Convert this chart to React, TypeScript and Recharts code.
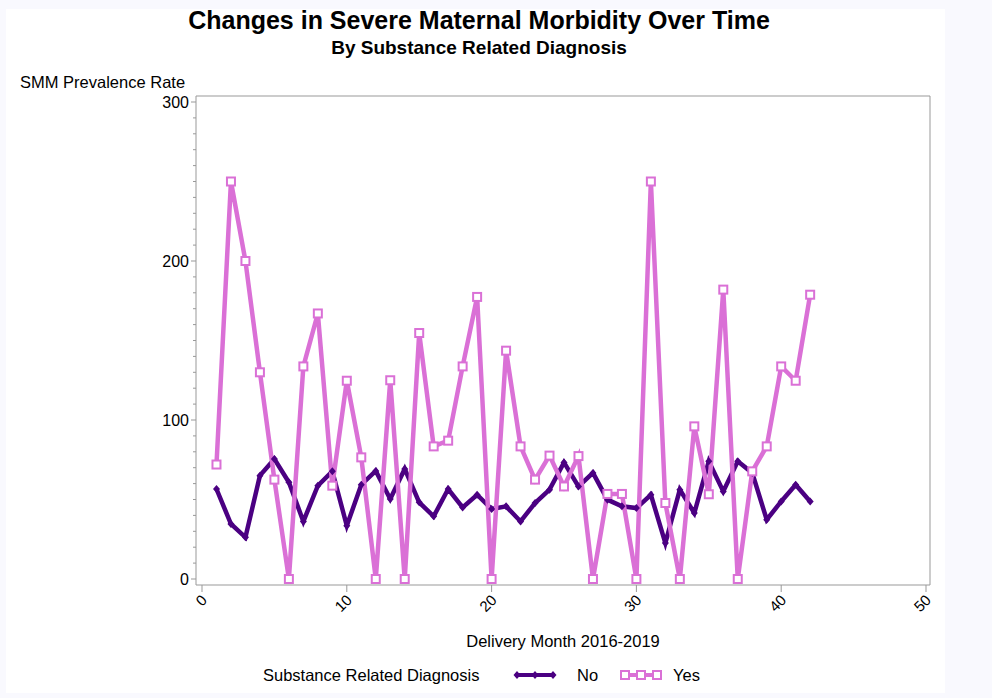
import React from 'react';
import { LineChart, Line, XAxis, YAxis } from 'recharts';

const months = [1, 2, 3, 4, 5, 6, 7, 8, 9, 10, 11, 12, 13, 14, 15, 16, 17, 18, 19, 20, 21, 22, 23, 24, 25, 26, 27, 28, 29, 30, 31, 32, 33, 34, 35, 36, 37, 38, 39, 40, 41, 42];
const noRates = [56.6, 34.6, 26.2, 65, 75.5, 60.8, 36.2, 58.7, 67.7, 33.5, 59.3, 68, 50.3, 69.2, 48.2, 39.4, 56.6, 45, 53, 44, 45.7, 36.2, 47.8, 56.2, 73.3, 58.2, 66.7, 49.9, 45.7, 44.6, 53, 22.6, 56.2, 41.5, 74, 55.1, 74, 66.7, 37.3, 48.8, 59.3, 48.8];
const yesRates = [72, 250, 200, 130, 62.5, 0, 133.7, 167, 58.7, 124.7, 76.5, 0, 125, 0, 154.7, 83.4, 87, 133.7, 177.4, 0, 143.6, 83.4, 62.5, 77.6, 58.2, 77.3, 0, 53.5, 53.5, 0, 250, 47.8, 0, 96, 53.3, 182, 0, 67.7, 83.4, 133.7, 124.7, 178.8];
const xTicks = [0, 10, 20, 30, 40, 50];
const yTicks = [0, 10, 20, 30, 40, 50, 60, 70, 80, 90, 100, 110, 120, 130, 140, 150, 160, 170, 180, 190, 200, 210, 220, 230, 240, 250, 260, 270, 280, 290, 300];
const yLabelTicks = [0, 100, 200, 300];

const title = 'Changes in Severe Maternal Morbidity Over Time';
const subtitle = 'By Substance Related Diagnosis';
const yTitle = 'SMM Prevalence Rate';
const xTitle = 'Delivery Month 2016-2019';
const legendTitle = 'Substance Related Diagnosis';
const seriesNames = ['No', 'Yes'];

const data = months.map((m, i) => ({ month: m, no: noRates[i], yes: yesRates[i] }));

const PURPLE = '#4B0082';
const PINK = '#DA70D6';
const AXIS = '#999999';
const FONT = '"Liberation Sans", Arial, sans-serif';

const Diamond = (props: any) => {
  const { cx, cy } = props;
  if (cx == null || cy == null) return null;
  return <path d={`M${cx},${cy - 4}L${cx + 3.5},${cy}L${cx},${cy + 4}L${cx - 3.5},${cy}Z`} fill={PURPLE} />;
};

const Square = (props: any) => {
  const { cx, cy } = props;
  if (cx == null || cy == null) return null;
  return <rect x={cx - 4} y={cy - 4} width={8} height={8} fill="#ffffff" stroke={PINK} strokeWidth={2} />;
};

const YTick = (props: any) => {
  const { x, y, payload } = props;
  const major = yLabelTicks.includes(payload.value);
  return (
    <g>
      <line x1={x - (major ? 5 : 3)} x2={x} y1={y} y2={y} stroke={AXIS} strokeWidth={1} />
      {major && (
        <text x={x - 7} y={y} dy="0.36em" textAnchor="end" fontSize={16} fontFamily={FONT} fill="#000">
          {payload.value}
        </text>
      )}
    </g>
  );
};

const XTick = (props: any) => {
  const { x, y, payload } = props;
  return (
    <g transform={`translate(${x + 6},${y + 9})`}>
      <text x={0} y={0} textAnchor="end" transform="rotate(-45)" fontSize={15} fontFamily={FONT} fill="#000">
        {payload.value}
      </text>
    </g>
  );
};

const txt = (s: string, left: number, top: number, size: number, bold = false, extra: any = {}) => (
  <div
    style={{
      position: 'absolute',
      left,
      top,
      fontSize: size,
      lineHeight: `${size}px`,
      fontWeight: bold ? 'bold' : 'normal',
      fontFamily: FONT,
      color: '#000',
      whiteSpace: 'nowrap',
      ...extra,
    }}
  >
    {s}
  </div>
);

export default function App() {
  return (
    <div style={{ position: 'absolute', left: 0, top: 0, width: 992, height: 698, background: '#f9f9fe', overflow: 'hidden' }}>
      <div style={{ position: 'absolute', left: 6, top: 9, width: 939, height: 684, background: '#ffffff' }} />
      <div style={{ position: 'absolute', left: 0, top: 0 }}>
        <LineChart width={992} height={698} data={data} margin={{ top: 95, right: 61, bottom: 112, left: 195 }}>
          <XAxis
            dataKey="month"
            type="number"
            domain={[0, 50]}
            ticks={xTicks}
            interval={0}
            height={1}
            padding={{ left: 6, right: 4 }}
            axisLine={{ stroke: AXIS }}
            tickLine={{ stroke: AXIS }}
            tickSize={7}
            tickMargin={0}
            tick={<XTick />}
          />
          <XAxis
            xAxisId="top"
            orientation="top"
            dataKey="month"
            type="number"
            domain={[0, 50]}
            ticks={xTicks}
            height={1}
            tick={false}
            tickLine={false}
            axisLine={{ stroke: AXIS }}
          />
          <YAxis
            type="number"
            domain={[0, 300]}
            ticks={yTicks}
            interval={0}
            width={1}
            padding={{ top: 6, bottom: 6 }}
            axisLine={{ stroke: AXIS }}
            tickLine={false}
            tickSize={0}
            tickMargin={0}
            tick={<YTick />}
          />
          <YAxis
            yAxisId="right"
            orientation="right"
            type="number"
            domain={[0, 300]}
            ticks={yLabelTicks}
            width={1}
            tick={false}
            tickLine={false}
            axisLine={{ stroke: AXIS }}
          />
          <Line
            type="linear"
            dataKey="no"
            stroke={PURPLE}
            strokeWidth={4.5}
            dot={<Diamond />}
            activeDot={false}
            isAnimationActive={false}
          />
          <Line
            type="linear"
            dataKey="yes"
            stroke={PINK}
            strokeWidth={4.5}
            dot={<Square />}
            activeDot={false}
            isAnimationActive={false}
          />
        </LineChart>
      </div>
      {txt(title, 0, 8, 25, true, { width: 958, textAlign: 'center' })}
      {txt(subtitle, 0, 38, 19, true, { width: 958, textAlign: 'center' })}
      {txt(yTitle, 20, 74, 16.5)}
      {txt(xTitle, 0, 633, 16.5, false, { width: 1126, textAlign: 'center' })}
      {txt(legendTitle, 263, 667, 16.5)}
      <svg style={{ position: 'absolute', left: 510, top: 665 }} width={160} height={20}>
        <line x1={5} x2={45} y1={10} y2={10} stroke={PURPLE} strokeWidth={4} />
        <Diamond cx={7} cy={10} />
        <Diamond cx={25} cy={10} />
        <Diamond cx={43} cy={10} />
        <line x1={112} x2={150} y1={10} y2={10} stroke={PINK} strokeWidth={4} />
        <Square cx={115} cy={10} />
        <Square cx={131} cy={10} />
        <Square cx={147} cy={10} />
      </svg>
      {txt(seriesNames[0], 577, 667, 16.5)}
      {txt(seriesNames[1], 673, 667, 16.5)}
    </div>
  );
}
